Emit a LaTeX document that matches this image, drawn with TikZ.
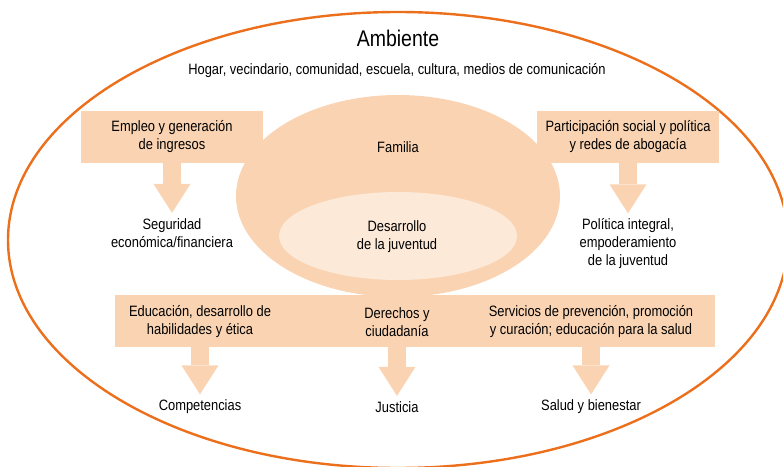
\documentclass[tikz,border=0pt]{standalone}
\usepackage{fontspec}
\setmainfont{Liberation Sans}[FakeStretch=0.86]
\usetikzlibrary{arrows.meta}
\definecolor{orangeamb}{RGB}{236,112,28}
\definecolor{peche}{RGB}{250,212,178}
\definecolor{pechec}{RGB}{252,233,216}

\begin{document}
\begin{tikzpicture}[x=0.75pt,y=-0.75pt,
  texte/.style={align=center,inner sep=0pt,font=\fontsize{11.25}{13.5}\selectfont},
  boite/.style={texte,fill=peche,minimum height=39pt},
  fleche/.style={peche,line width=13.5pt,shorten >=4pt,
    -{Triangle[width=27.75pt,length=21.75pt,line width=0pt]}}]
\useasboundingbox (0,0) rectangle (783,467);
\clip (0,0) rectangle (783,467);
\draw [orangeamb,line width=1.8pt] (398,240) ellipse [x radius=390, y radius=228];
\fill [peche] (398,196) ellipse [x radius=162, y radius=101];
\fill [pechec] (398,236) ellipse [x radius=119, y radius=44];

\node [texte,font=\fontsize{17}{20}\selectfont] (amb) at (398,38) {Ambiente};
\node [texte] (hog) at (397,71) {Hogar, vecindario, comunidad, escuela, cultura, medios de comunicación};
\node [texte] (fam) at (398,147) {Familia};
\node [texte] (dev) at (397,237) {Desarrollo\\de la juventud};

\node [boite,minimum width=136.5pt] (emp) at (172,137) {Empleo y generación\\de ingresos};
\node [boite,minimum width=136.5pt] (par) at (628,137) {Participación social y política\\y redes de abogacía};
\node [boite,minimum width=450pt] (sec) at (415,321) {};
\node [texte] (edu) at (200,322) {Educación, desarrollo de\\habilidades y ética};
\node [texte] (der) at (397,322) {Derechos y\\ciudadanía};
\node [texte] (ser) at (591,322) {Servicios de prevención, promoción\\y curación; educación para la salud};

\node [texte] (seg) at (172,233) {Seguridad\\económica/financiera};
\node [texte] (pol) at (628,244) {Política integral,\\empoderamiento\\de la juventud};
\node [texte] (com) at (200,407) {Competencias};
\node [texte] (jus) at (397,407) {Justicia};
\node [texte] (sal) at (591,407) {Salud y bienestar};

\draw [fleche] (emp.south) -- (seg.north);
\draw [fleche] (par.south) -- (pol.north);
\foreach \a/\b in {edu/com,der/jus,ser/sal}
  \draw [fleche] (\a |- sec.south) -- (\b.north);
\end{tikzpicture}
\end{document}
